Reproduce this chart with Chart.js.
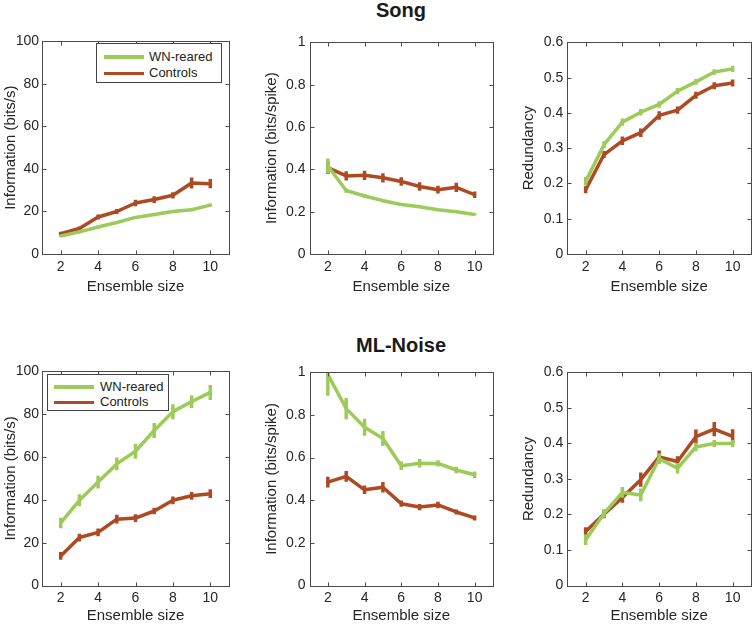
<!DOCTYPE html>
<html><head><meta charset="utf-8">
<script src="https://cdn.jsdelivr.net/npm/chart.js@4/dist/chart.umd.min.js"></script>
<style>
html,body{margin:0;padding:0;background:#fff;}
body{width:756px;height:625px;position:relative;overflow:hidden;font-family:"Liberation Sans",Arial,Helvetica,sans-serif;}
canvas{position:absolute;}
.ttl{position:absolute;font-weight:bold;font-size:20px;line-height:20px;color:#1a1a1a;text-align:center;width:200px;}
.lg{position:absolute;box-sizing:border-box;border:1px solid #444;background:#fff;}
.lgi{position:absolute;font-size:13px;line-height:14px;color:#222;white-space:nowrap;}
.lgl{position:absolute;height:3.5px;}
</style>
</head><body>
<div class="ttl" style="left:301px;top:0px;">Song</div>
<div class="ttl" style="left:301px;top:335px;">ML-Noise</div>
<script>
// ---------- data ----------
const ensembleSizes = [2, 3, 4, 5, 6, 7, 8, 9, 10];
const xTickValues = [2, 4, 6, 8, 10];
const seriesLabels = ['WN-reared', 'Controls'];
const panelTitles = ['Song', 'ML-Noise'];
const xAxisTitle = 'Ensemble size';
const yAxisTitles = ['Information (bits/s)', 'Information (bits/spike)', 'Redundancy'];

const rateTicks = [0, 20, 40, 60, 80, 100];
const perSpikeTicks = [0, 0.2, 0.4, 0.6, 0.8, 1];
const redundancyTicks = [0, 0.1, 0.2, 0.3, 0.4, 0.5, 0.6];

// Song
const songRateWN      = [8.5, 10.4, 12.7, 14.8, 17.2, 18.6, 20.0, 20.8, 23.0];
const songRateWNErr   = [0.6, 0.6, 0.6, 0.6, 0.7, 0.7, 0.7, 0.7, 0.8];
const songRateCtl     = [9.6, 12.0, 17.4, 20.0, 24.0, 25.6, 27.6, 33.4, 33.1];
const songRateCtlErr  = [0.9, 0.9, 1.2, 1.2, 1.5, 1.6, 1.5, 2.6, 2.2];

const songSpikeWN     = [0.416, 0.300, 0.274, 0.252, 0.234, 0.223, 0.209, 0.200, 0.187];
const songSpikeWNErr  = [0.035, 0.010, 0.008, 0.007, 0.006, 0.006, 0.005, 0.005, 0.005];
const songSpikeCtl    = [0.408, 0.369, 0.372, 0.360, 0.343, 0.319, 0.304, 0.315, 0.280];
const songSpikeCtlErr = [0.030, 0.022, 0.022, 0.022, 0.020, 0.020, 0.018, 0.022, 0.015];

const songRedWN       = [0.206, 0.310, 0.374, 0.402, 0.424, 0.462, 0.488, 0.516, 0.525];
const songRedWNErr    = [0.012, 0.010, 0.010, 0.009, 0.009, 0.009, 0.008, 0.008, 0.009];
const songRedCtl      = [0.182, 0.282, 0.321, 0.344, 0.393, 0.408, 0.450, 0.477, 0.485];
const songRedCtlErr   = [0.010, 0.010, 0.012, 0.012, 0.012, 0.010, 0.010, 0.010, 0.010];

// ML-Noise
const noiseRateWN      = [29.2, 39.8, 48.3, 56.8, 62.7, 72.4, 81.2, 85.9, 90.2];
const noiseRateWNErr   = [2.5, 2.8, 3.0, 3.0, 3.5, 3.5, 3.5, 3.0, 3.5];
const noiseRateCtl     = [13.8, 22.4, 24.8, 31.0, 31.5, 34.8, 39.8, 41.9, 42.9];
const noiseRateCtlErr  = [1.8, 1.8, 1.8, 2.0, 1.8, 1.5, 1.8, 1.8, 2.0];

const noiseSpikeWN     = [0.990, 0.830, 0.743, 0.690, 0.562, 0.574, 0.573, 0.542, 0.520];
const noiseSpikeWNErr  = [0.100, 0.050, 0.040, 0.035, 0.020, 0.020, 0.015, 0.015, 0.015];
const noiseSpikeCtl    = [0.485, 0.512, 0.449, 0.461, 0.384, 0.368, 0.378, 0.345, 0.317];
const noiseSpikeCtlErr = [0.025, 0.025, 0.020, 0.025, 0.015, 0.015, 0.015, 0.012, 0.012];

const noiseRedWN       = [0.129, 0.203, 0.262, 0.255, 0.357, 0.330, 0.390, 0.400, 0.400];
const noiseRedWNErr    = [0.015, 0.012, 0.015, 0.018, 0.015, 0.015, 0.012, 0.010, 0.010];
const noiseRedCtl      = [0.152, 0.201, 0.248, 0.298, 0.362, 0.349, 0.419, 0.440, 0.420];
const noiseRedCtlErr   = [0.012, 0.012, 0.015, 0.020, 0.018, 0.015, 0.020, 0.020, 0.020];

// ---------- styles / layout ----------
const colorWN = '#9ccb5a';
const colorCtl = '#ad4a22';
const axisColor = '#4a4a4a';
const textColor = '#262626';
const FONT = '"Liberation Sans", Arial, Helvetica, sans-serif';
const LINE_W = 3.5;

const cols = [
  {left: 0,   width: 252, yAxisW: 42,   padRight: 23, yTitlePad: 2,  yTickPad: 3},
  {left: 252, width: 252, yAxisW: 57.5, padRight: 11, yTitlePad: 11, yTickPad: 4},
  {left: 504, width: 252, yAxisW: 63.3, padRight: 5,  yTitlePad: 16, yTickPad: 4}
];
const rows = [
  {top: 30,  height: 270, padTop: 9.5, xAxisH: 46,   xTitlePad: 4.3, xTickPad: 5},
  {top: 360, height: 265, padTop: 11,  xAxisH: 39.5, xTitlePad: 0,   xTickPad: 4}
];

const panels = [
  {row: 0, col: 0, ticks: rateTicks,       wn: songRateWN,   wnErr: songRateWNErr,   ctl: songRateCtl,   ctlErr: songRateCtlErr},
  {row: 0, col: 1, ticks: perSpikeTicks,   wn: songSpikeWN,  wnErr: songSpikeWNErr,  ctl: songSpikeCtl,  ctlErr: songSpikeCtlErr},
  {row: 0, col: 2, ticks: redundancyTicks, wn: songRedWN,    wnErr: songRedWNErr,    ctl: songRedCtl,    ctlErr: songRedCtlErr},
  {row: 1, col: 0, ticks: rateTicks,       wn: noiseRateWN,  wnErr: noiseRateWNErr,  ctl: noiseRateCtl,  ctlErr: noiseRateCtlErr},
  {row: 1, col: 1, ticks: perSpikeTicks,   wn: noiseSpikeWN, wnErr: noiseSpikeWNErr, ctl: noiseSpikeCtl, ctlErr: noiseSpikeCtlErr},
  {row: 1, col: 2, ticks: redundancyTicks, wn: noiseRedWN,   wnErr: noiseRedWNErr,   ctl: noiseRedCtl,   ctlErr: noiseRedCtlErr}
];

const legends = [
  {left: 96, top: 43, width: 126, height: 40, lineX: 7,  lineW: 40, textX: 52, rowY: [13, 29.5]},
  {left: 47, top: 374, width: 122, height: 37, lineX: 6, lineW: 40, textX: 52, rowY: [12, 27.5]}
];

// ---------- plugin: box, inward ticks, error bars ----------
const framePlugin = {
  id: 'frame',
  afterDatasetDraw(chart, args) {
    const errs = chart.config.options.plugins.frame.errors[args.index];
    const meta = args.meta;
    const ys = chart.scales.y;
    const ctx = chart.ctx;
    const a = chart.chartArea;
    ctx.save();
    ctx.beginPath();
    ctx.rect(a.left, a.top, a.right - a.left, a.bottom - a.top);
    ctx.clip();
    ctx.strokeStyle = chart.data.datasets[args.index].borderColor;
    ctx.lineWidth = LINE_W;
    ctx.lineCap = 'butt';
    meta.data.forEach((pt, i) => {
      const v = chart.data.datasets[args.index].data[i].y;
      const y1 = ys.getPixelForValue(v - errs[i]);
      const y2 = ys.getPixelForValue(v + errs[i]);
      ctx.beginPath();
      ctx.moveTo(pt.x, y1);
      ctx.lineTo(pt.x, y2);
      ctx.stroke();
    });
    ctx.restore();
  },
  afterDraw(chart) {
    const ctx = chart.ctx;
    const a = chart.chartArea;
    const xs = chart.scales.x, ys = chart.scales.y;
    const L = Math.round(a.left) + 0.5, R = Math.round(a.right) + 0.5;
    const T = Math.round(a.top) + 0.5, B = Math.round(a.bottom) + 0.5;
    ctx.save();
    ctx.strokeStyle = axisColor;
    ctx.lineWidth = 1;
    ctx.strokeRect(L, T, R - L, B - T);
    const tl = 4;
    ctx.beginPath();
    xs.ticks.forEach(t => {
      const px = Math.round(xs.getPixelForValue(t.value)) + 0.5;
      ctx.moveTo(px, B); ctx.lineTo(px, B - tl);
      ctx.moveTo(px, T); ctx.lineTo(px, T + tl);
    });
    ys.ticks.forEach(t => {
      const py = Math.round(ys.getPixelForValue(t.value)) + 0.5;
      ctx.moveTo(L, py); ctx.lineTo(L + tl, py);
      ctx.moveTo(R, py); ctx.lineTo(R - tl, py);
    });
    ctx.stroke();
    ctx.restore();
  }
};

function toPoints(vals) { return ensembleSizes.map((x, i) => ({x: x, y: vals[i]})); }

panels.forEach((p) => {
  const c = cols[p.col], r = rows[p.row];
  const cv = document.createElement('canvas');
  cv.width = c.width; cv.height = r.height;
  cv.style.left = c.left + 'px'; cv.style.top = r.top + 'px';
  cv.style.width = c.width + 'px'; cv.style.height = r.height + 'px';
  document.body.appendChild(cv);
  const yMin = p.ticks[0], yMax = p.ticks[p.ticks.length - 1];
  new Chart(cv, {
    type: 'line',
    data: {
      datasets: [
        {label: seriesLabels[0], data: toPoints(p.wn), borderColor: colorWN, backgroundColor: colorWN, borderWidth: LINE_W, pointRadius: 0, tension: 0, borderJoinStyle: 'round'},
        {label: seriesLabels[1], data: toPoints(p.ctl), borderColor: colorCtl, backgroundColor: colorCtl, borderWidth: LINE_W, pointRadius: 0, tension: 0, borderJoinStyle: 'round'}
      ]
    },
    options: {
      responsive: false,
      animation: false,
      devicePixelRatio: 1,
      layout: {padding: {left: 0, right: c.padRight, top: r.padTop, bottom: 0}},
      plugins: {
        legend: {display: false},
        tooltip: {enabled: false},
        frame: {errors: [p.wnErr, p.ctlErr]}
      },
      scales: {
        x: {
          type: 'linear', min: 1, max: 11,
          grid: {display: false, drawTicks: false},
          border: {display: false},
          afterBuildTicks: s => { s.ticks = xTickValues.map(v => ({value: v})); },
          afterFit: s => { s.height = r.xAxisH; },
          ticks: {padding: r.xTickPad, color: textColor, font: {family: FONT, size: 14}, callback: v => String(v)},
          title: {display: true, text: xAxisTitle, color: textColor, font: {family: FONT, size: 15}, padding: {top: 0, bottom: r.xTitlePad}}
        },
        y: {
          type: 'linear', min: yMin, max: yMax,
          grid: {display: false, drawTicks: false},
          border: {display: false},
          afterBuildTicks: s => { s.ticks = p.ticks.map(v => ({value: v})); },
          afterFit: s => { s.width = c.yAxisW; },
          ticks: {padding: c.yTickPad, color: textColor, font: {family: FONT, size: 14}, callback: v => String(v)},
          title: {display: true, text: yAxisTitles[p.col], color: textColor, font: {family: FONT, size: 15}, padding: {top: c.yTitlePad, bottom: 0}}
        }
      }
    },
    plugins: [framePlugin]
  });
});

// legends (HTML, inside the left panels)
legends.forEach(lg => {
  const d = document.createElement('div');
  d.className = 'lg';
  d.style.left = lg.left + 'px'; d.style.top = lg.top + 'px';
  d.style.width = lg.width + 'px'; d.style.height = lg.height + 'px';
  [colorWN, colorCtl].forEach((col, i) => {
    const ln = document.createElement('div');
    ln.className = 'lgl';
    ln.style.left = lg.lineX + 'px'; ln.style.width = lg.lineW + 'px';
    ln.style.top = (lg.rowY[i] - 1.75) + 'px'; ln.style.background = col;
    d.appendChild(ln);
    const tx = document.createElement('div');
    tx.className = 'lgi';
    tx.style.left = lg.textX + 'px'; tx.style.top = (lg.rowY[i] - 7.5) + 'px';
    tx.textContent = seriesLabels[i];
    d.appendChild(tx);
  });
  document.body.appendChild(d);
});
</script>
</body></html>
